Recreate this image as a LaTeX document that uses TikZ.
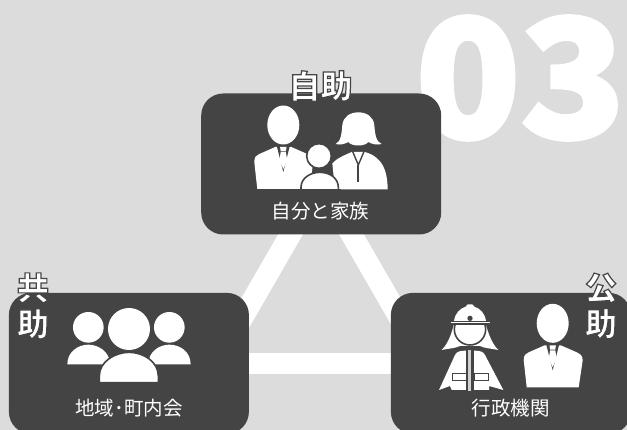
\documentclass[tikz,border=0pt]{standalone}
\usepackage{fontspec}
\setmainfont{Noto Sans CJK JP}
\definecolor{bgc}{HTML}{DCDCDC}
\definecolor{boxc}{HTML}{444444}
\newcommand{\halotext}[1]{\special{pdf:code q 2 Tr 0.27 G 1 g 1.2 w}#1\special{pdf:code Q}}
\newcommand{\heavytext}[1]{\special{pdf:code q 2 Tr 1 G 1 g 4 w}#1\special{pdf:code Q}}
\tikzset{
 x=1pt,y=-1pt,
 panel/.style={fill=boxc,rounded corners=22pt,minimum width=240pt,minimum height=141pt,inner sep=0pt,anchor=north west},
 stripe/.style={draw=white,line width=21.5pt},
 caption/.style={text=white,font=\fontsize{19.5}{21}\selectfont,inner sep=0pt},
 kanji/.style={text=white,font=\bfseries\fontsize{32}{36}\selectfont,inner sep=0pt,align=center},
 gap/.style={fill=white,draw=boxc,line width=1.6pt},
 man/.pic={
  \fill[white] (0,0) ellipse [x radius=16,y radius=19.5];
  \fill[white] (-26,64) -- (-29,37) .. controls (-29,32) and (-27,30) .. (-24,29) -- (-8,22) -- (8,22) -- (24,29) .. controls (27,30) and (30,32) .. (30,37) -- (26,64) -- cycle;
  \fill[boxc] (-6.5,21) -- (0,47) -- (6.5,21) -- cycle;
  \fill[white] (-3.2,22) -- (3.2,22) -- (2.6,26.3) -- (-2.6,26.3) -- cycle;
  \fill[white] (-2.6,27.2) -- (2.6,27.2) -- (3.9,35) -- (0,44) -- (-3.9,35) -- cycle;
 }
}
\begin{document}
\begin{tikzpicture}
\useasboundingbox (0,0) rectangle (627,430);
\clip (0,0) rectangle (627,430);
\fill[bgc] (0,0) rectangle (627,430);
\node[text=white,font=\bfseries\fontsize{164}{164}\selectfont\addfontfeature{FakeStretch=1.05},inner sep=0pt] (num) at (520.5,78) {\heavytext{03}};
\coordinate (apex) at (321,181.6);
\coordinate (lft) at (216,363.5);
\coordinate (rgt) at (426,363.5);
\draw[stripe] (apex) -- (lft);
\draw[stripe] (apex) -- (rgt);
\draw[stripe] (lft) -- (rgt);
\node[panel] (self) at (201,93.3) {};
\node[panel] (mutual) at (8.7,292.7) {};
\node[panel] (public) at (390.7,292.7) {};
% family
\pic at (283.3,125) {man};
\begin{scope}[shift={(255pt,-100pt)},x=0.3333pt,y=-0.3333pt]
 \fill[white] (242,132) .. controls (258,125) and (260,100) .. (262,75) .. controls (265,50) and (285,37) .. (310,37) .. controls (335,37) and (355,50) .. (358,75) .. controls (360,100) and (362,125) .. (380,132) .. controls (365,136) and (350,132) .. (340,126) .. controls (330,140) and (290,140) .. (280,126) .. controls (270,132) and (255,136) .. (242,132) -- cycle;
 \fill[white] (240,268) -- (232,190) .. controls (245,175) and (270,165) .. (290,156) -- (330,156) .. controls (360,165) and (398,185) .. (398,268) -- cycle;
 \draw[boxc,line width=1.4pt] (291,150) -- (310,195) -- (329,150);
 \draw[boxc,line width=1.8pt] (310,195) -- (310,245);
 \filldraw[gap] (192,168) circle [radius=37];
 \filldraw[gap] (138,275) -- (138,262) .. controls (138,235) and (165,217) .. (195,217) .. controls (225,217) and (250,235) .. (250,262) -- (250,275) -- cycle;
 \fill[boxc] (130,268) rectangle (258,280);
\end{scope}
% group
\begin{scope}[shift={(0pt,-270pt)},x=0.3333pt,y=-0.3333pt]
 \fill[white] (265,172) circle [radius=46];
 \fill[white] (508,172) circle [radius=46];
 \fill[white] (202,283) .. controls (202,245) and (235,224) .. (265,224) .. controls (295,224) and (330,245) .. (330,283) -- cycle;
 \fill[white] (572,283) .. controls (572,245) and (540,224) .. (508,224) .. controls (478,224) and (445,245) .. (445,283) -- cycle;
 \fill[white] (387,177) circle [radius=63];
 \filldraw[gap] (298,338) -- (298,318) .. controls (298,275) and (345,247) .. (387,247) .. controls (430,247) and (475,275) .. (475,318) -- (475,338) -- cycle;
 \fill[boxc] (290,339) rectangle (484,345);
\end{scope}
% firefighter
\begin{scope}[shift={(435pt,-300pt)},x=0.3333pt,y=-0.3333pt]
 \fill[white] (20,150) .. controls (40,130) and (50,100) .. (57,72) -- (152,72) .. controls (160,100) and (170,130) .. (190,150) .. controls (165,145) and (150,145) .. (135,138) -- (75,138) .. controls (60,145) and (45,145) .. (20,150) -- cycle;
 \filldraw[gap] (105,88) circle [radius=47];
 \fill[boxc] (50,62) rectangle (160,74);
 \fill[white] (57,63) .. controls (60,40) and (75,25) .. (92,20) -- (98,13) -- (112,13) -- (118,20) .. controls (135,25) and (150,40) .. (153,63) -- cycle;
 \fill[boxc] (105,55) circle [radius=8];
 \draw[white,line width=1.4pt] (47,67) -- (165,67);
 \fill[white] (12,270) -- (60,165) .. controls (65,155) and (75,152) .. (90,152) -- (120,152) .. controls (135,152) and (145,155) .. (150,165) -- (205,270) -- (163,258) -- (162,270) -- (50,270) -- (45,258) -- cycle;
 \fill[boxc] (93,150) rectangle (118,272);
 \fill[white!75!boxc] (100,150) rectangle (109,272);
 \filldraw[fill=white,draw=boxc,line width=1pt] (52,222) rectangle (95,243);
 \filldraw[fill=white,draw=boxc,line width=1pt] (120,222) rectangle (162,243);
\end{scope}
% official
\pic at (552.7,323.3) {man};
% captions
\node[caption] (capself) at (320.5,211) {自分と家族};
\node[caption] (capmutual) at (129,408) {地域･町内会};
\node[caption] (cappublic) at (510.5,408) {行政機関};
\node[kanji] (tself) at (320.5,86) {\halotext{自助}};
\node[kanji] (tmutual) at (33,306) {\halotext{共}\\\halotext{助}};
\node[kanji] (tpublic) at (601,306) {\halotext{公}\\\halotext{助}};
\end{tikzpicture}
\end{document}
